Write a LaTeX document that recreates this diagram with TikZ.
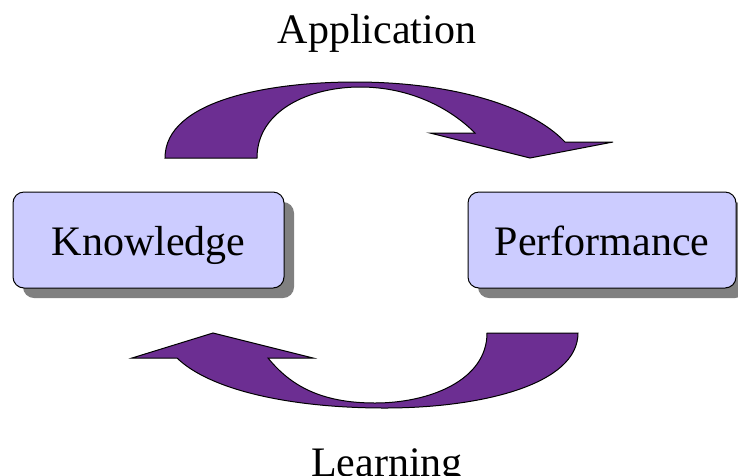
\documentclass[tikz,border=0pt]{standalone}
\usepackage{fontspec}
\setmainfont{Liberation Serif}
\usetikzlibrary{shadows}
\definecolor{arrowpurple}{RGB}{108,46,146}
\definecolor{boxfill}{RGB}{204,204,255}
\definecolor{shadowgray}{RGB}{128,128,128}
\begin{document}
\begin{tikzpicture}[x=1pt,y=-1pt,
  stagebox/.style={draw=black, line width=1pt, fill=boxfill, rounded corners=11pt,
    minimum width=271pt, minimum height=96pt, inner sep=0pt,
    text height=30pt, text depth=0pt,
    font=\fontsize{42}{48}\selectfont,
    drop shadow={shadow xshift=10pt, shadow yshift=-10pt, fill=shadowgray, opacity=1}},
  looplabel/.style={font=\fontsize{42}{48}\selectfont, inner sep=0pt, anchor=base},
  bentarrow/.style={fill=arrowpurple, draw=black, line width=1pt, line join=miter}]
\useasboundingbox (0,0) rectangle (738,475);
\fill[white] (0,0) rectangle (738,475);

% top arrow (Application)
\path[bentarrow] (165,158) .. controls (165,100) and (270,82) .. (355,82)
  .. controls (450,82) and (530,105) .. (565,142)
  -- (613,142) -- (530,158) -- (430,133) -- (475,133)
  .. controls (450,108) and (410,87) .. (360,87)
  .. controls (310,87) and (257,110) .. (257,158) -- cycle;

% bottom arrow (Learning)
\path[bentarrow] (578,333) -- (487,333)
  .. controls (487,380) and (430,403) .. (375,403)
  .. controls (320,403) and (290,385) .. (268,358)
  -- (313,358) -- (213,333) -- (132,358) -- (177,358)
  .. controls (210,390) and (290,408) .. (385,408)
  .. controls (480,408) and (578,385) .. (578,333) -- cycle;

\node[stagebox] (k) at (148.5,240) {Knowledge};
\node[stagebox, minimum width=268pt] (p) at (602,240) {Performance};

\node[looplabel] (app) at (377,43) {Application};
\node[looplabel] (learn) at (387,476) {Learning};
\end{tikzpicture}
\end{document}
